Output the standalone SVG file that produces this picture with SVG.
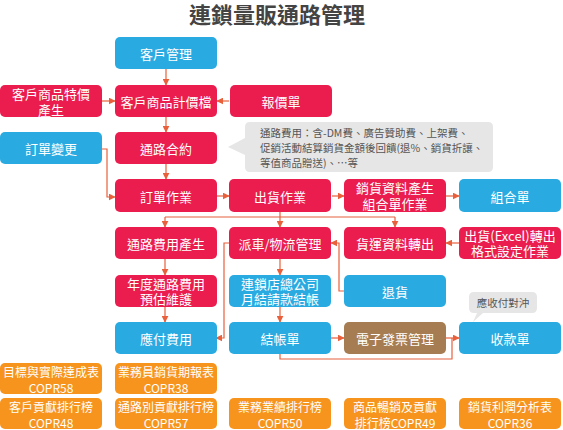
<svg xmlns="http://www.w3.org/2000/svg" width="563" height="430" viewBox="0 0 563 430">
<style>
text{font-family:"Noto Sans CJK TC","Noto Sans CJK SC","Liberation Sans",sans-serif;}
.t{font-size:13px;fill:#fff;text-anchor:middle;dominant-baseline:central;}
.s{font-size:12px;fill:#fff;text-anchor:middle;dominant-baseline:central;}
.red{fill:#EA1D4E;}
.blue{fill:#29ABE2;}
.brown{fill:#A67C52;}
.org{fill:#F7941D;}
.c{fill:none;stroke:#E8603C;stroke-width:1.2;}
.note{fill:#E6E6E6;}
.nt{font-size:10.5px;fill:#555;}
</style>
<defs>
<marker id="a" viewBox="0 0 10 10" refX="9" refY="5" markerWidth="7" markerHeight="7" orient="auto" markerUnits="userSpaceOnUse">
<path d="M0,0 L10,5 L0,10 z" fill="#E8603C"/>
</marker>
</defs>
<text x="277" y="23" font-size="22" font-weight="bold" fill="#444" text-anchor="middle">連鎖量販通路管理</text>

<g id="connectors">
<path class="c" d="M166,69 V85" marker-end="url(#a)"/>
<path class="c" d="M102,101 H115" marker-end="url(#a)"/>
<path class="c" d="M229,101 H217" marker-end="url(#a)"/>
<path class="c" d="M166,117 V132" marker-end="url(#a)"/>
<path class="c" d="M166,164 V179" marker-end="url(#a)"/>
<path class="c" d="M102,149 H107 V197 H115" marker-end="url(#a)"/>
<path class="c" d="M217,196 H229" marker-end="url(#a)"/>
<path class="c" d="M332,196 H344" marker-end="url(#a)"/>
<path class="c" d="M446,196 H459" marker-end="url(#a)"/>
<path class="c" d="M280,212 V217 M165,217 H395"/>
<path class="c" d="M165,217 V227" marker-end="url(#a)"/>
<path class="c" d="M280,217 V227" marker-end="url(#a)"/>
<path class="c" d="M395,217 V227" marker-end="url(#a)"/>
<path class="c" d="M459,243 H446" marker-end="url(#a)"/>
<path class="c" d="M229,243 H224 V338 H216" marker-end="url(#a)"/>
<path class="c" d="M344,291 H339 V243 H331" marker-end="url(#a)"/>
<path class="c" d="M165,259 V275" marker-end="url(#a)"/>
<path class="c" d="M280,259 V275" marker-end="url(#a)"/>
<path class="c" d="M165,307 V322" marker-end="url(#a)"/>
<path class="c" d="M280,307 V322" marker-end="url(#a)"/>
<path class="c" d="M331,338 H344" marker-end="url(#a)"/>
<path class="c" d="M280,354 V359 H452 V338"/>
<path class="c" d="M446,338 H459" marker-end="url(#a)"/>
</g>

<g id="note1">
<path class="note" d="M250,122 H488 Q493,122 493,127 V167 Q493,172 488,172 H250 Q245,172 245,167 V155 L228,147 L245,138 V127 Q245,122 250,122 Z"/>
<text class="nt" x="260" y="137">通路費用：含-DM費、廣告贊助費、上架費、</text>
<text class="nt" x="260" y="152">促銷活動結算銷貨金額後回饋(退%、銷貨折讓、</text>
<text class="nt" x="260" y="167">等值商品贈送)、…等</text>
</g>
<g id="note2">
<path class="note" d="M474,292 H532 Q537,292 537,297 V308 Q537,313 532,313 H483 L473,322 L477,313 H474 Q469,313 469,308 V297 Q469,292 474,292 Z"/>
<text class="nt" x="503" y="302.5" text-anchor="middle" dominant-baseline="central">應收付對沖</text>
</g>

<g id="n_khgl"><rect class="blue" x="115" y="37" width="102" height="32" rx="5"/><text class="t" x="166" y="53">客戶管理</text></g>
<g id="n_tjcs"><rect class="red" x="0" y="85" width="102" height="32" rx="5"/><text class="t" x="51" y="93.5">客戶商品特價</text><text class="t" x="51" y="109">產生</text></g>
<g id="n_jjd"><rect class="red" x="115" y="85" width="102" height="32" rx="5"/><text class="t" x="166" y="101">客戶商品計價檔</text></g>
<g id="n_bjd"><rect class="red" x="230" y="85" width="102" height="32" rx="5"/><text class="t" x="281" y="101">報價單</text></g>
<g id="n_ddbg"><rect class="blue" x="0" y="132" width="102" height="32" rx="5"/><text class="t" x="51" y="148">訂單變更</text></g>
<g id="n_lhhy"><rect class="red" x="115" y="132" width="102" height="32" rx="5"/><text class="t" x="166" y="148">通路合約</text></g>
<g id="n_ddzy"><rect class="red" x="115" y="179" width="102" height="33" rx="5"/><text class="t" x="166" y="196">訂單作業</text></g>
<g id="n_chzy"><rect class="red" x="229" y="179" width="102" height="33" rx="5"/><text class="t" x="280" y="196">出貨作業</text></g>
<g id="n_xhzl"><rect class="red" x="344" y="179" width="102" height="33" rx="5"/><text class="t" x="395" y="187.5">銷貨資料產生</text><text class="t" x="395" y="203">組合單作業</text></g>
<g id="n_zhd"><rect class="blue" x="459" y="179" width="102" height="33" rx="5"/><text class="t" x="510" y="196">組合單</text></g>
<g id="n_fycs"><rect class="red" x="115" y="227" width="102" height="32" rx="5"/><text class="t" x="166" y="243">通路費用產生</text></g>
<g id="n_pc"><rect class="red" x="229" y="227" width="102" height="32" rx="5"/><text class="t" x="280" y="243">派車/物流管理</text></g>
<g id="n_hyzc"><rect class="red" x="344" y="227" width="102" height="32" rx="5"/><text class="t" x="395" y="243">貨運資料轉出</text></g>
<g id="n_excel"><rect class="red" x="459" y="227" width="102" height="32" rx="5"/><text class="t" x="510" y="235">出貨(Excel)轉出</text><text class="t" x="510" y="250.5">格式設定作業</text></g>
<g id="n_ndfy"><rect class="red" x="115" y="275" width="102" height="32" rx="5"/><text class="t" x="166" y="283">年度通路費用</text><text class="t" x="166" y="298.5">預估維護</text></g>
<g id="n_lsd"><rect class="blue" x="229" y="275" width="102" height="32" rx="5"/><text class="t" x="280" y="283">連鎖店總公司</text><text class="t" x="280" y="298.5">月結請款結帳</text></g>
<g id="n_th"><rect class="blue" x="344" y="275" width="102" height="32" rx="5"/><text class="t" x="395" y="291">退貨</text></g>
<g id="n_yffy"><rect class="blue" x="115" y="322" width="102" height="32" rx="5"/><text class="t" x="166" y="338">應付費用</text></g>
<g id="n_jzd"><rect class="blue" x="229" y="322" width="102" height="32" rx="5"/><text class="t" x="280" y="338">結帳單</text></g>
<g id="n_dzfp"><rect class="brown" x="344" y="322" width="102" height="32" rx="5"/><text class="t" x="395" y="338">電子發票管理</text></g>
<g id="n_skd"><rect class="blue" x="459" y="322" width="102" height="32" rx="5"/><text class="t" x="510" y="338">收款單</text></g>

<g id="r_58"><rect class="org" x="0" y="363" width="102" height="31" rx="5"/><text class="s" x="51" y="371.5">目標與實際達成表</text><text class="s" x="51" y="387">COPR58</text></g>
<g id="r_38"><rect class="org" x="115" y="363" width="102" height="31" rx="5"/><text class="s" x="166" y="371.5">業務員銷貨期報表</text><text class="s" x="166" y="387">COPR38</text></g>
<g id="r_48"><rect class="org" x="0" y="398" width="102" height="31" rx="5"/><text class="s" x="51" y="406.5">客戶貢獻排行榜</text><text class="s" x="51" y="422">COPR48</text></g>
<g id="r_57"><rect class="org" x="115" y="398" width="102" height="31" rx="5"/><text class="s" x="166" y="406.5">通路別貢獻排行榜</text><text class="s" x="166" y="422">COPR57</text></g>
<g id="r_50"><rect class="org" x="229" y="398" width="102" height="31" rx="5"/><text class="s" x="280" y="406.5">業務業績排行榜</text><text class="s" x="280" y="422">COPR50</text></g>
<g id="r_49"><rect class="org" x="344" y="398" width="102" height="31" rx="5"/><text class="s" x="395" y="406.5">商品暢銷及貢獻</text><text class="s" x="395" y="422">排行榜COPR49</text></g>
<g id="r_36"><rect class="org" x="459" y="398" width="102" height="31" rx="5"/><text class="s" x="510" y="406.5">銷貨利潤分析表</text><text class="s" x="510" y="422">COPR36</text></g>
</svg>
